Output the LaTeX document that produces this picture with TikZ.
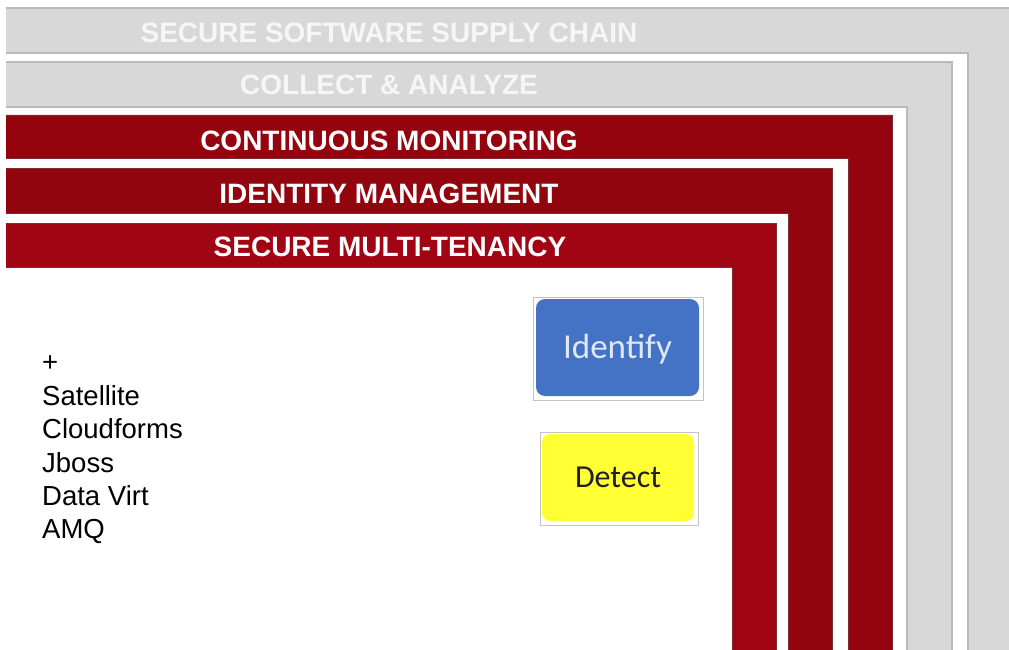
\documentclass[tikz,border=0pt]{standalone}
\usepackage{fontspec}
\setmainfont{Liberation Sans}
\newfontfamily\carlito{Carlito}
\definecolor{bandgray}{RGB}{216,216,216}
\definecolor{graystroke}{RGB}{186,186,186}
\definecolor{redA}{RGB}{148,3,14}
\definecolor{redB}{RGB}{146,4,14}
\definecolor{redC}{RGB}{161,4,18}
\definecolor{redstroke}{RGB}{125,45,50}
\definecolor{idblue}{RGB}{68,114,196}
\definecolor{idtext}{RGB}{222,233,248}
\definecolor{detyellow}{RGB}{255,255,51}
\definecolor{boxframe}{RGB}{196,196,196}
\definecolor{graylabel}{RGB}{246,246,246}
\newcommand\bandframe[6]{%
  \fill[#5] (6,#1) -- (#2,#1) -- (#2,660) -- (#4,660) -- (#4,#3) -- (6,#3) -- cycle;
  \draw[#6] (6,#1) -- (#2,#1) -- (#2,660);
  \draw[#6] (6,#3) -- (#4,#3) -- (#4,660);}
\begin{document}
\begin{tikzpicture}[x=1pt,y=-1pt,
  graystk/.style={draw=graystroke,line width=1.2pt},
  redstk/.style={draw=redstroke,line width=0.8pt},
  bandlabel/.style={anchor=base,inner sep=0pt,text=white,font=\fontsize{28}{30}\selectfont\bfseries},
  itemtext/.style={anchor=base west,inner sep=0pt,font=\fontsize{27.5}{30}\selectfont},
  boxouter/.style={draw=boxframe,line width=1pt,fill=white},
  idbox/.style={fill=idblue,rounded corners=9pt,minimum width=163pt,minimum height=97pt,
    text=idtext,font=\carlito\fontsize{35}{40}\selectfont,text height=22.5pt,text depth=0pt,inner sep=0pt},
  detbox/.style={fill=detyellow,rounded corners=8pt,minimum width=152pt,minimum height=87pt,
    text=black!88,font=\carlito\fontsize{32}{36}\selectfont,text height=20.6pt,text depth=0pt,inner sep=0pt}]
\useasboundingbox (0,0) rectangle (1009,650);
\clip (0,0) rectangle (1009,650);
\fill[white] (0,0) rectangle (1009,650);
% bands: top, right, inner top, inner right
\bandframe{8}{1015}{53}{968}{bandgray}{graystk}
\bandframe{62}{952}{107}{907}{bandgray}{graystk}
\bandframe{115}{892}{158}{848}{redA}{redstk}
\bandframe{168}{832}{213}{788}{redB}{redstk}
\bandframe{223}{776}{267}{732}{redC}{redstk}
% band labels
\node[bandlabel,text=graylabel] (sssc) at (389,43) {SECURE SOFTWARE SUPPLY CHAIN};
\node[bandlabel,text=graylabel] (collect) at (389,95) {COLLECT \& ANALYZE};
\node[bandlabel] (monitor) at (389,150) {CONTINUOUS MONITORING};
\node[bandlabel] (identity) at (389,203) {IDENTITY MANAGEMENT};
\node[bandlabel] (tenancy) at (390,256) {SECURE MULTI-TENANCY};
% product list
\node[itemtext] (plus) at (42,371) {+};
\node[itemtext] (satellite) at (42,405) {Satellite};
\node[itemtext] (cloudforms) at (42,438) {Cloudforms};
\node[itemtext] (jboss) at (42,472) {Jboss};
\node[itemtext] (datavirt) at (42,505) {Data Virt};
\node[itemtext] (amq) at (42,538) {AMQ};
% boxes
\draw[boxouter] (533,297) rectangle (703,400);
\node[idbox] (identify) at (617.5,347.5) {Identify};
\draw[boxouter] (540,432) rectangle (698,525);
\node[detbox] (detect) at (618,477.5) {Detect};
\end{tikzpicture}
\end{document}
